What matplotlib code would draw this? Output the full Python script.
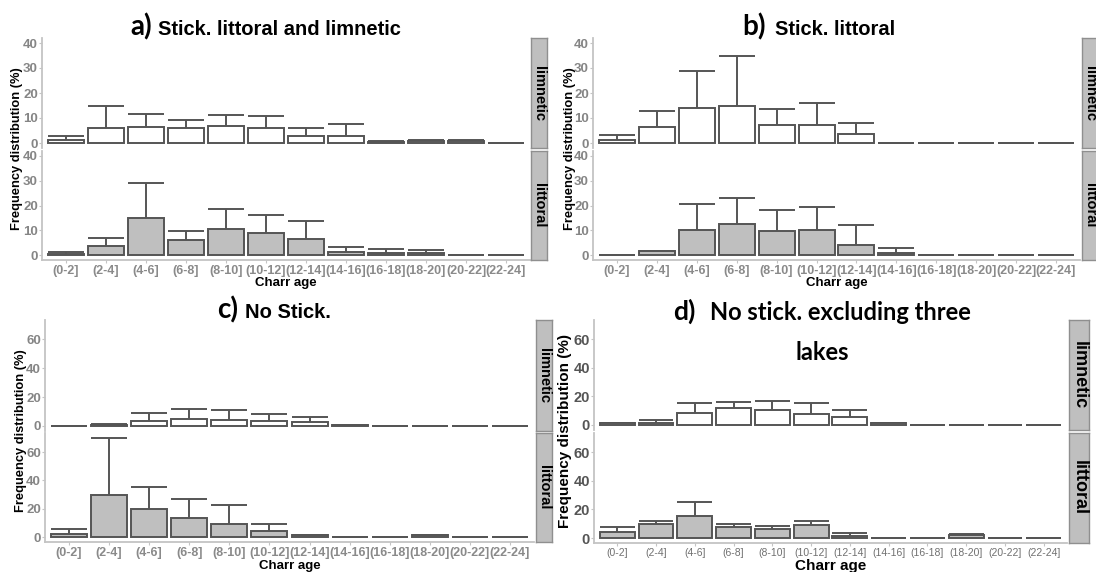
import matplotlib
matplotlib.use("Agg")
import matplotlib.pyplot as plt
import numpy as np

W, H = 1096, 572

ages = ['(0-2]', '(2-4]', '(4-6]', '(6-8]', '(8-10]', '(10-12]', '(12-14]',
        '(14-16]', '(16-18]', '(18-20]', '(20-22]', '(22-24]']

# a) Stick. littoral and limnetic
a_lim = [1.3, 5.9, 6.5, 5.9, 6.9, 6.0, 2.7, 2.8, 0.6, 0.8, 0.9, 0]
a_lim_up = [2.9, 15.0, 11.6, 9.2, 11.3, 10.8, 5.9, 7.5, 0.8, 1.1, 1.2, 0]
a_lit = [0.5, 3.5, 15.0, 5.9, 10.7, 8.7, 6.4, 1.3, 0.9, 0.9, 0, 0]
a_lit_up = [1.3, 6.7, 29.0, 9.9, 18.4, 16.1, 13.9, 3.3, 2.4, 2.1, 0, 0]

# b) Stick. littoral
b_lim = [1.2, 6.4, 14.0, 14.8, 7.1, 7.2, 3.6, 0, 0, 0, 0, 0]
b_lim_up = [3.1, 12.9, 28.8, 34.9, 13.5, 16.0, 7.9, 0, 0, 0, 0, 0]
b_lit = [0, 1.6, 10.0, 12.7, 9.7, 10.3, 4.0, 0.9, 0, 0, 0, 0]
b_lit_up = [0, 1.7, 20.5, 23.0, 18.0, 19.3, 12.0, 2.8, 0, 0, 0, 0]

# c) No Stick.
c_lim = [0.3, 1.0, 3.1, 4.7, 4.0, 3.1, 2.4, 0.7, 0, 0, 0, 0]
c_lim_up = [0.3, 1.3, 8.7, 11.5, 10.8, 8.5, 6.4, 0.7, 0, 0, 0, 0]
c_lit = [2.4, 29.6, 19.5, 13.6, 8.9, 4.5, 1.2, 0, 0, 1.2, 0, 0]
c_lit_up = [5.4, 70.3, 35.5, 26.8, 22.4, 9.4, 1.4, 0, 0, 1.4, 0, 0]

# d) No stick. excluding three lakes
d_lim = [1.2, 1.6, 8.6, 12.1, 10.7, 7.9, 5.8, 1.4, 0, 0, 0, 0]
d_lim_up = [1.4, 3.3, 15.4, 16.3, 16.8, 15.6, 10.5, 1.4, 0, 0, 0, 0]
d_lit = [4.0, 9.8, 15.7, 7.7, 6.1, 8.9, 1.4, 0, 0, 2.3, 0, 0]
d_lit_up = [7.9, 12.1, 25.0, 10.0, 8.6, 11.9, 3.3, 0, 0, 2.6, 0, 0]

SANS = ['Liberation Sans', 'DejaVu Sans']
CAL = ['Lato', 'DejaVu Sans']
EDGE = '#555555'

fig = plt.figure(figsize=(W / 100, H / 100), dpi=100)


def box(x0, y0, x1, y1):
    return [x0 / W, 1 - y1 / H, (x1 - x0) / W, (y1 - y0) / H]


def facet(rect, vals, upper, fill, ymax, yticks, bottom, st):
    ax = fig.add_axes(box(*rect))
    x = np.arange(len(ages))
    ax.vlines(x, vals, upper, color=EDGE, lw=1.4, zorder=1)
    ax.hlines(upper, x - 0.45, x + 0.45, color=EDGE, lw=1.4, zorder=1)
    ax.bar(x, vals, width=0.9, color=fill, edgecolor=EDGE, linewidth=1.4, zorder=2)
    ax.set_xlim(-0.6, len(ages) - 0.4)
    ax.set_ylim(-0.05 * ymax, 1.05 * ymax)
    ax.set_yticks(yticks)
    for s in ['top', 'right']:
        ax.spines[s].set_visible(False)
    ax.spines['left'].set_color('#c4c4c4')
    ax.spines['left'].set_linewidth(1.3)
    ax.tick_params(axis='y', length=2, pad=1, color='#c4c4c4',
                   labelsize=st['ysize'], labelcolor=st['ycol'])
    for t in ax.get_yticklabels():
        t.set_fontfamily(SANS)
        t.set_fontweight('bold')
    if bottom:
        ax.spines['bottom'].set_color('#c4c4c4')
        ax.spines['bottom'].set_linewidth(1.3)
        ax.set_xticks(x)
        ax.set_xticklabels(ages, fontsize=st['xsize'], color=st['xcol'],
                           fontfamily=SANS, fontweight=st['xweight'])
        ax.tick_params(axis='x', length=2, pad=1.5, color='#c4c4c4')
    else:
        ax.spines['bottom'].set_visible(False)
        ax.set_xticks([])
    return ax


def strip(rect, label, size):
    ax = fig.add_axes(box(*rect))
    ax.set_facecolor('#bfbfbf')
    ax.set_xticks([])
    ax.set_yticks([])
    for s in ax.spines.values():
        s.set_color('#8f8f8f')
        s.set_linewidth(1.0)
    ax.text(0.5, 0.5, label, rotation=-90, ha='center', va='center',
            fontsize=size, fontweight='bold', fontfamily=SANS,
            transform=ax.transAxes)


def panel(px0, px1, top, bot, strip_x, data, ymax, yticks, st):
    lim, lim_up, lit, lit_up = data
    facet((px0, top[0], px1, top[1]), lim, lim_up, 'white', ymax, yticks, False, st)
    facet((px0, bot[0], px1, bot[1]), lit, lit_up, '#bfbfbf', ymax, yticks, True, st)
    strip((strip_x[0], top[0], strip_x[1], top[1]), 'limnetic', st['strip'])
    strip((strip_x[0], bot[0], strip_x[1], bot[1]), 'littoral', st['strip'])
    mid = (top[0] + bot[1]) / 2
    fig.text(st['ylab_x'] / W, 1 - mid / H, 'Frequency distribution (%)',
             rotation=90, ha='center', va='center', fontsize=st['ylab'],
             fontweight='bold', fontfamily=SANS)
    fig.text((px0 + px1) / 2 / W, 1 - st['xlab_y'] / H, 'Charr age',
             ha='center', va='center', fontsize=st['xlab'],
             fontweight='bold', fontfamily=SANS)


small = dict(ysize=9.5, ycol='#858585', xsize=9, xcol='#8a8a8a', xweight='bold',
             strip=10.5, ylab=9.3, xlab=9.5, ylab_x=17, xlab_y=283)

panel(42, 530, (38, 148), (151, 260), (531, 547),
      (a_lim, a_lim_up, a_lit, a_lit_up), 40, [0, 10, 20, 30, 40], small)
panel(593, 1080, (38, 148), (151, 260), (1082, 1098),
      (b_lim, b_lim_up, b_lit, b_lit_up), 40, [0, 10, 20, 30, 40],
      dict(small, ylab_x=570))
panel(45, 534, (320, 431), (433, 542), (536, 552),
      (c_lim, c_lim_up, c_lit, c_lit_up), 70, [0, 20, 40, 60],
      dict(small, ylab_x=21, xlab_y=566))
panel(594, 1067, (320, 430), (433, 543), (1069, 1089),
      (d_lim, d_lim_up, d_lit, d_lit_up), 70, [0, 20, 40, 60],
      dict(ysize=10.5, ycol='#555555', xsize=7.5, xcol='#707070', xweight='normal',
           strip=13, ylab=11, xlab=11, ylab_x=565, xlab_y=566))


# panel titles
def title(x_tag, x_txt, base, tag, txt, txt_font, txt_size, tag_size=20):
    fig.text(x_tag / W, 1 - base / H, tag, fontsize=tag_size,
             fontweight='bold', fontfamily=CAL, va='baseline')
    fig.text(x_txt / W, 1 - base / H, txt, fontsize=txt_size,
             fontweight='bold', fontfamily=txt_font, va='baseline')


title(130, 158, 35, 'a)', 'Stick. littoral and limnetic', SANS, 14.5)
title(742, 775, 35, 'b)', 'Stick. littoral', SANS, 14.5)
title(217, 245, 318, 'c)', 'No Stick.', SANS, 14.5)
title(673, 710, 320, 'd)', 'No stick. excluding three', CAL, 17, tag_size=19)
fig.text(822 / W, 1 - 360 / H, 'lakes', fontsize=17, fontweight='bold',
         fontfamily=CAL, ha='center', va='baseline')

fig.savefig('out.png', dpi=100)
